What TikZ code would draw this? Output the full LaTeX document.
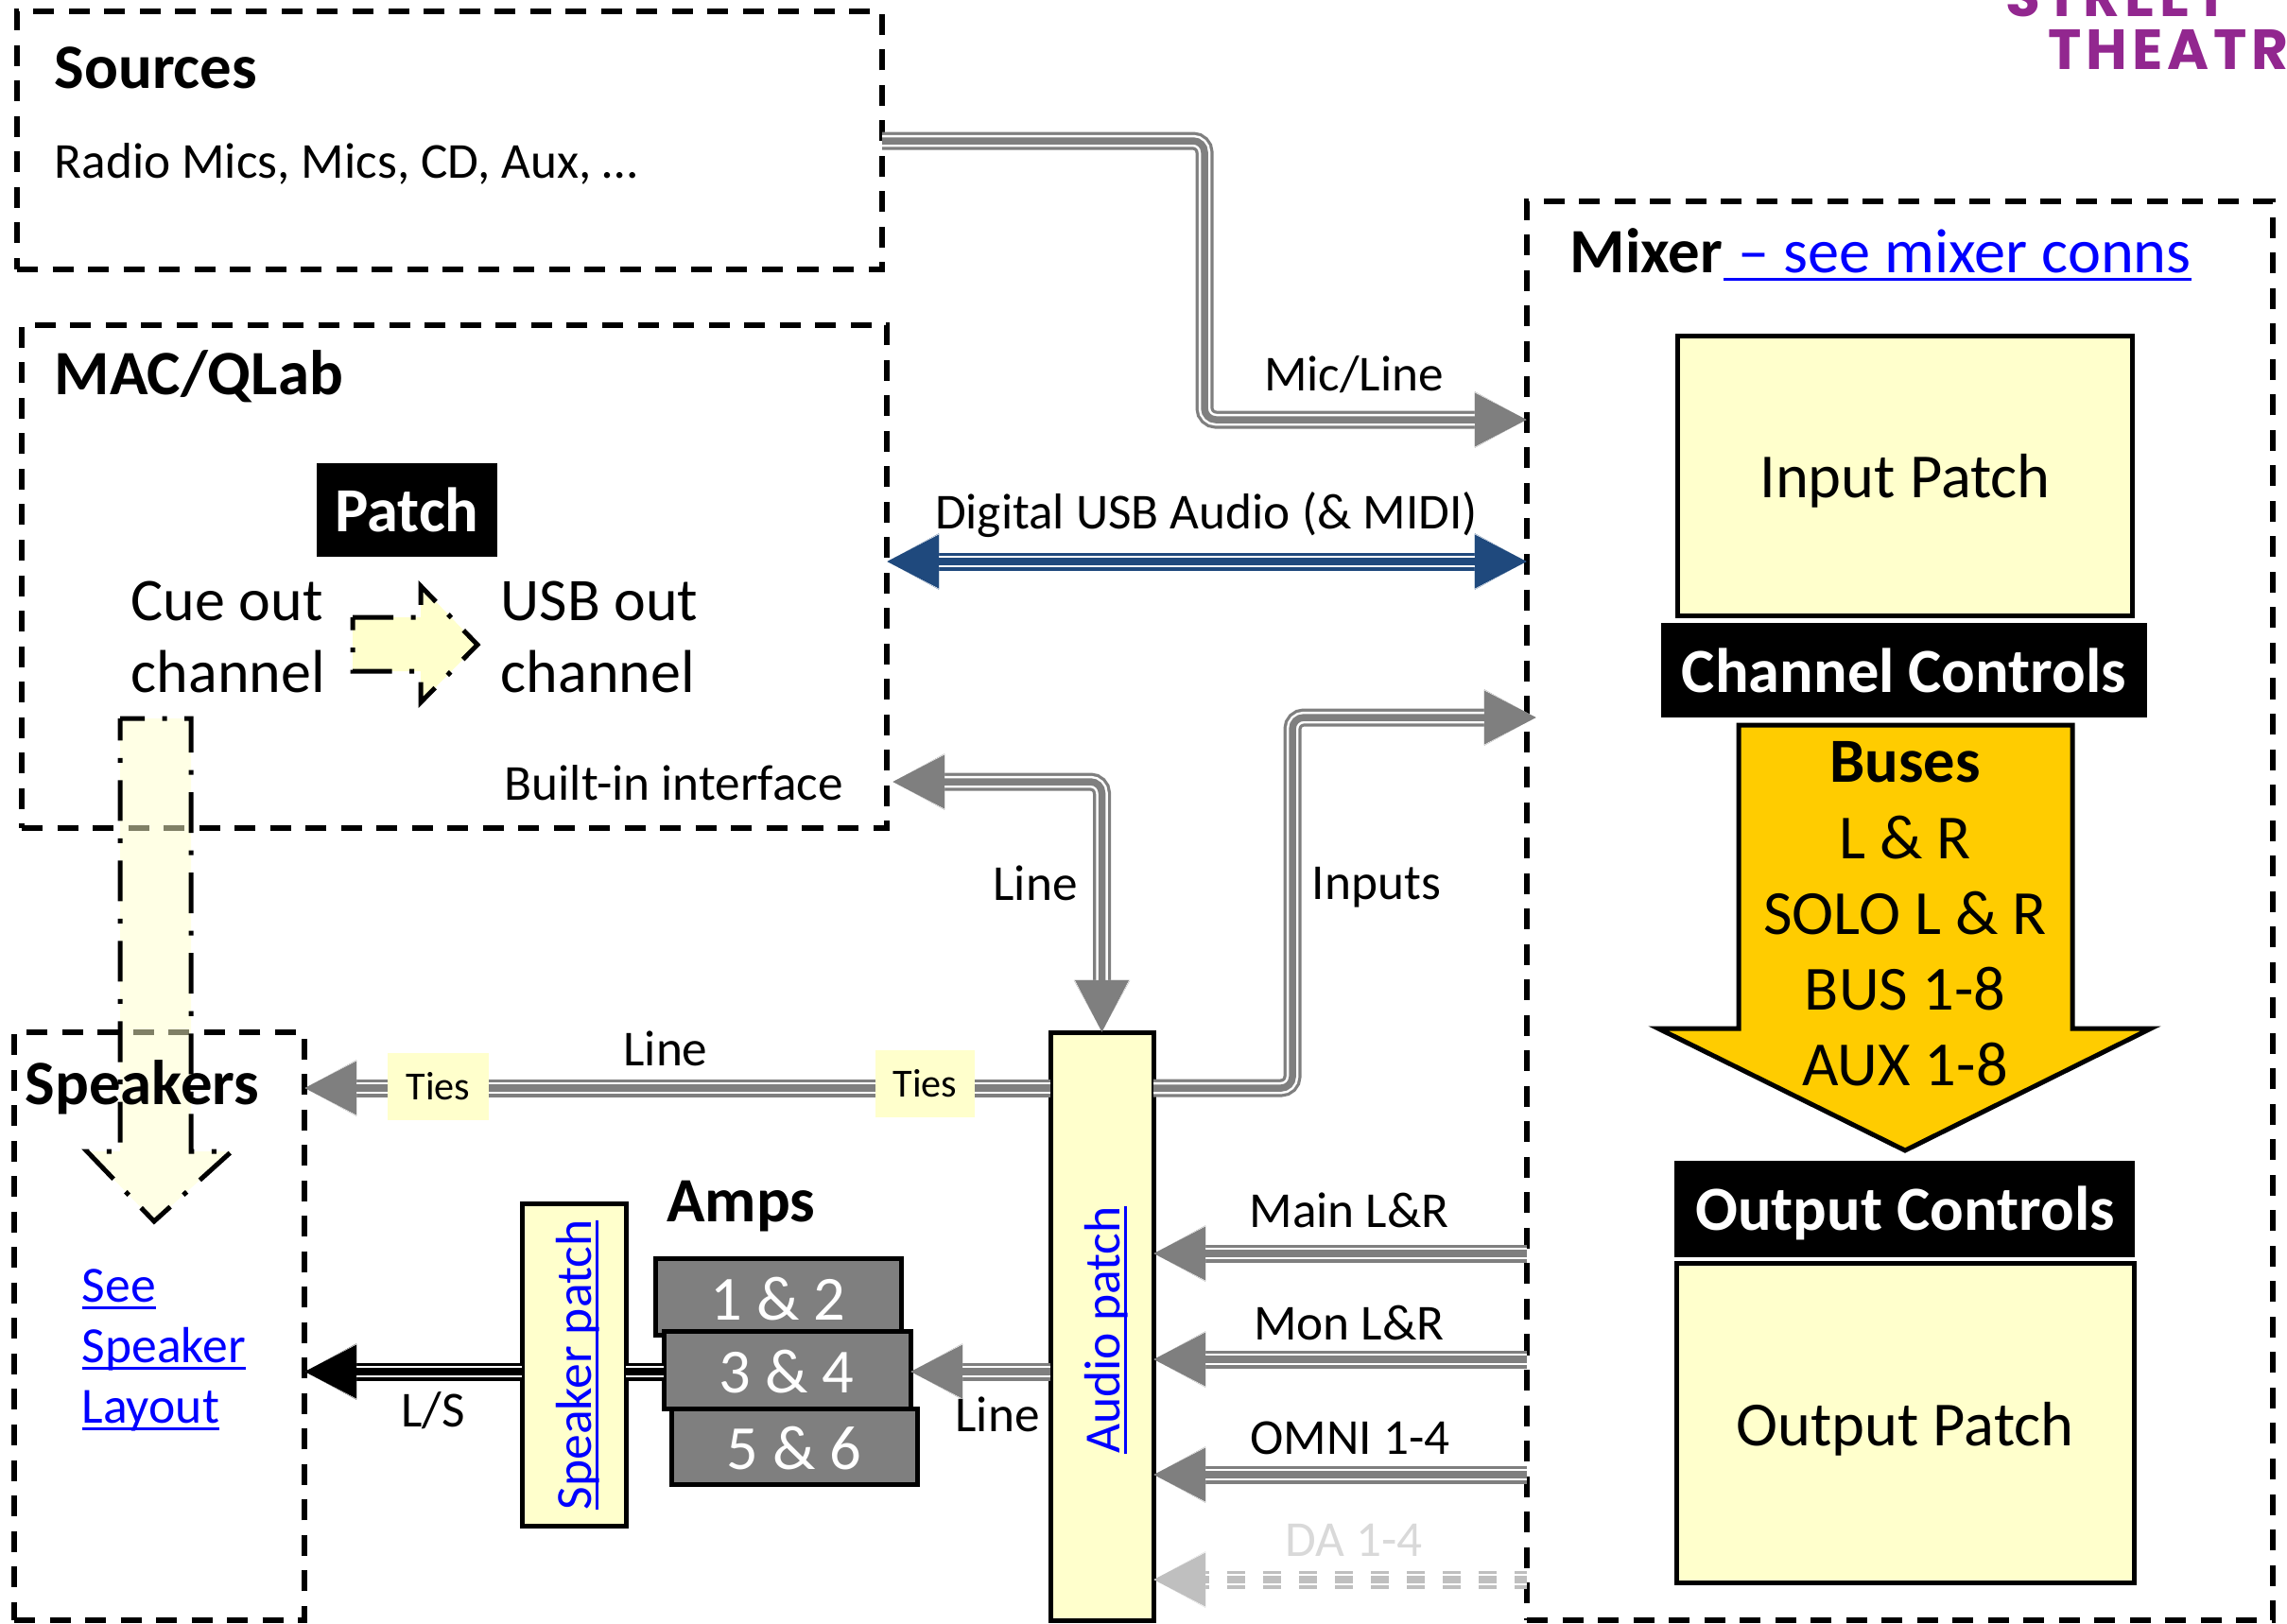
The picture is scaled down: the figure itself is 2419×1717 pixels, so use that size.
\documentclass[tikz,border=0pt]{standalone}
\usepackage{fontspec}
\setmainfont{Carlito}
\newfontfamily\logofont[LetterSpace=8]{Poppins}
\usepackage{xcolor}
\usepackage{tikz}
\usetikzlibrary{arrows.meta,fit}
\definecolor{pale}{HTML}{FFFFCC}
\definecolor{bus}{HTML}{FFCC00}
\definecolor{trk}{HTML}{7F7F7F}
\definecolor{usbc}{HTML}{1F497D}
\definecolor{fadedc}{HTML}{BFBFBF}
\definecolor{fadedt}{HTML}{D9D9D9}
\definecolor{linkc}{HTML}{0000FF}
\definecolor{logoc}{HTML}{92278F}
\newcommand{\lnkline}[1]{\setbox0\hbox{#1}\leavevmode\rlap{\rule[-0.14em]{\wd0}{0.055em}}\box0}
\tikzset{
  >={Triangle[length=0.55cm,width=0.55cm]},
  dbox/.style={draw=black, line width=0.055cm, dash pattern=on 0.22cm off 0.155cm, inner sep=0, outer sep=0},
  pbox/.style={draw=black, line width=0.05cm, fill=pale, inner sep=0, outer sep=0},
  blackbar/.style={fill=black, inner sep=0, outer sep=0},
  bartext/.style={text=white, inner sep=0, font=\fontsize{18.9}{22}\selectfont\bfseries},
  ampbox/.style={draw=black, line width=0.05cm, fill=trk, inner sep=0, outer sep=0},
  amptext/.style={text=white, inner sep=0, font=\fontsize{18.9}{22}\selectfont},
  tiebox/.style={fill=pale, inner sep=0, outer sep=0},
  tietext/.style={inner sep=0, font=\fontsize{12}{14}\selectfont},
  trip/.style={draw=#1, fill=none, rounded corners=0.12cm, line width=0.075cm,
    preaction={draw=#1, line width=0.19cm},
    preaction={draw=white, line width=0.125cm}},
  tripdash/.style={draw=#1, fill=none, line width=0.075cm, dash pattern=on 0.19cm off 0.19cm, dash phase=0.06cm,
    preaction={draw=#1, line width=0.19cm, dash pattern=on 0.19cm off 0.19cm, dash phase=0.06cm},
    preaction={draw=white, line width=0.125cm, solid}},
  dotarrow/.style={draw=black, line width=0.05cm, dash pattern=on 0.43cm off 0.185cm on 0.05cm off 0.185cm},
  lab/.style={inner sep=0, font=\fontsize{15.15}{18}\selectfont},
  big/.style={inner sep=0, font=\fontsize{18.2}{21.6}\selectfont},
  patchtext/.style={inner sep=0, font=\fontsize{18.9}{22}\selectfont},
  head/.style={inner sep=0, font=\fontsize{19}{23}\selectfont\bfseries},
  lnk/.style={inner sep=0, text=linkc, font=\fontsize{15.25}{18.2}\selectfont},
  logo/.style={anchor=base west, inner sep=0, text=logoc, font=\fontsize{17}{20}\logofont\bfseries}
}
\begin{document}
\begin{tikzpicture}[x=0.01cm,y=-0.01cm]
  \useasboundingbox (0,0) rectangle (2419,1717);

  % Outer dashed groups
  \node[dbox, fit={(18,12) (933,285)}] (sources) {};
  \node[dbox, fit={(23,344) (938,876)}] (mac) {};
  \node[dbox, fit={(15,1092) (322,1714)}] (speakers) {};
  \node[dbox, fit={(1615,213) (2404,1714)}] (mixer) {};

  % Logo, cut by the page edge
  \node[logo] (logotop) at (2121,17) {STREET};
  \node[logo] (logobot) at (2166,73) {THEATR};

  % Mixer
  \node[pbox, fit={(1774,355) (2255,651)}] (inpatch) {};
  \node[patchtext] (inpatcht) at (2015,509) {Input Patch};
  \node[blackbar, fit={(1757,659) (2271,759)}] (chan) {};
  \node[bartext] (chanl) at (chan) {Channel Controls};
  \draw[pbox, fill=bus] (1839,767) -- (2192,767) -- (2192,1088) -- (2275,1088) -- (2015,1217) -- (1754,1088) -- (1839,1088) -- cycle;
  \node[inner sep=0, font=\fontsize{18.9}{22.8}\selectfont, align=center] (buses) at (2015,967) {\textbf{Buses}\\L \& R\\SOLO L \& R\\BUS 1-8\\AUX 1-8};
  \node[blackbar, fit={(1771,1228) (2258,1330)}] (outctl) {};
  \node[bartext] (outctll) at (2015,1283) {Output Controls};
  \node[pbox, fit={(1773,1336) (2257,1674)}] (outpatch) {};
  \node[patchtext] (outpatchl) at (2015,1512) {Output Patch};

  % Patch boxes and amps
  \node[pbox, fit={(1111,1092) (1220,1714)}] (audiopatch) {};
  \node[pbox, fit={(552,1273) (662,1614)}] (spkpatch) {};
  \node[ampbox, fit={(693,1331) (953,1412)}] (amp1) {};
  \node[amptext] (amp1l) at (823,1374) {1 \& 2};
  \node[ampbox, fit={(702,1408) (963,1490)}] (amp2) {};
  \node[amptext] (amp2l) at (832,1451) {3 \& 4};
  \node[ampbox, fit={(710,1490) (970,1570)}] (amp3) {};
  \node[amptext] (amp3l) at (840,1532) {5 \& 6};

  % Free ends of connectors
  \coordinate (micout) at (sources.east |- 0,149);
  \coordinate (micin) at (mixer.west |- 0,444);
  \coordinate (usbl) at (mac.east |- 0,594);
  \coordinate (usbr) at (mixer.west |- 0,594);
  \coordinate (macline) at (944,827);
  \coordinate (inputsin) at (1625,759);
  \coordinate (tiesout) at (audiopatch.west |- 0,1151);
  \coordinate (tiesin) at (speakers.east |- 0,1151);
  \coordinate (inputsout) at (audiopatch.east |- 0,1151);

  % Connectors
  \draw[trip=trk, ->] (micout) -| (1274,300) |- (micin);
  \draw[trip=usbc, <->] (usbl) -- (usbr);
  \draw[trip=trk, <->] (macline) -| (audiopatch.north);
  \draw[trip=trk, ->] (inputsout) -| (1367,900) |- (inputsin);
  \draw[trip=trk, ->] (tiesout) -- (tiesin);
  \draw[trip=trk, ->] (mixer.west |- 0,1326) -- (audiopatch.east |- 0,1326);
  \draw[trip=trk, ->] (mixer.west |- 0,1438) -- (audiopatch.east |- 0,1438);
  \draw[trip=trk, ->] (mixer.west |- 0,1560) -- (audiopatch.east |- 0,1560);
  \draw[tripdash=fadedc, ->] (mixer.west |- 0,1671) -- (audiopatch.east |- 0,1671);
  \draw[trip=trk, ->] (audiopatch.west |- 0,1451) -- (amp2.east |- 0,1451);
  \draw[trip=black] (amp2.west |- 0,1451) -- (spkpatch.east |- 0,1451);
  \draw[trip=black, ->] (spkpatch.west |- 0,1451) -- (speakers.east |- 0,1451);
  \node[tiebox, fit={(410,1114) (517,1185)}] (tie1) {};
  \node[tietext] (tie1l) at (tie1) {Ties};
  \node[tiebox, fit={(926,1111) (1031,1182)}] (tie2) {};
  \node[tietext] (tie2l) at (tie2) {Ties};

  % Pale arrows
  \fill[pale] (373,653) -- (445,653) -- (445,620) -- (505,682) -- (445,743) -- (445,710) -- (373,710) -- cycle;
  \draw[dotarrow] (373,653) -- (445,653) -- (445,620) -- (505,682) -- (445,743) -- (445,710) -- (373,710) -- cycle;
  \fill[pale, fill opacity=0.5] (127,760) -- (202,760) -- (202,1218) -- (245,1218) -- (163,1292) -- (92,1218) -- (127,1218) -- cycle;
  \draw[dotarrow, dash phase=0.17cm] (127,760) -- (202,760) -- (202,1218) -- (245,1218) -- (163,1292) -- (92,1218) -- (127,1218) -- cycle;

  % Labels
  \node[head, anchor=west] (sourcest) at (57,72) {Sources};
  \node[lab, anchor=west] (sourcesl) at (57,173) {Radio Mics, Mics, CD, Aux, …};
  \node[head, anchor=west] (mact) at (57,398) {MAC/QLab};
  \node[blackbar, fit={(335,490) (526,589)}] (patch) {};
  \node[bartext] (patchl) at (patch) {Patch};
  \node[big, anchor=west, align=left] (cueout) at (138,674) {Cue out\\channel};
  \node[big, anchor=west, align=left] (usbout) at (529,674) {USB out\\channel};
  \node[lab, anchor=west] (builtin) at (533,828) {Built-in interface};
  \node[head, anchor=west] (speakerst) at (26,1150) {Speakers};
  \node[lnk, anchor=west, align=left] (seelink) at (86,1428) {\lnkline{See}\\\lnkline{Speaker}\\\lnkline{Layout}};
  \node[head, anchor=west] (mixert) at (1660,265) {Mixer};
  \node[anchor=base west, inner sep=0, text=linkc, font=\fontsize{18.85}{22}\selectfont] (mixerl) at (mixert.base east) {\lnkline{~– see mixer conns}};
  \node[lab] (micl) at (1432,396) {Mic/Line};
  \node[lab] (usbla) at (1276,545) {Digital USB Audio (\& MIDI)};
  \node[lab] (linel) at (1095,934) {Line};
  \node[lab] (inputsl) at (1456,939) {Inputs};
  \node[lab] (tiesl) at (704,1109) {Line};
  \node[head] (ampsl) at (784,1276) {Amps};
  \node[lab] (lsl) at (458,1492) {L/S};
  \node[lab] (linel2) at (1055,1496) {Line};
  \node[lab] (mainl) at (1427,1280) {Main L\&R};
  \node[lab] (monl) at (1427,1399) {Mon L\&R};
  \node[lab] (omnil) at (1428,1521) {OMNI 1-4};
  \node[lab, text=fadedt] (dal) at (1432,1629) {DA 1-4};
  \node[lnk, rotate=90] (audiol) at (1170,1407) {\lnkline{Audio patch}};
  \node[lnk, rotate=90] (spkl) at (611,1444) {\lnkline{Speaker patch}};
\end{tikzpicture}
\end{document}
